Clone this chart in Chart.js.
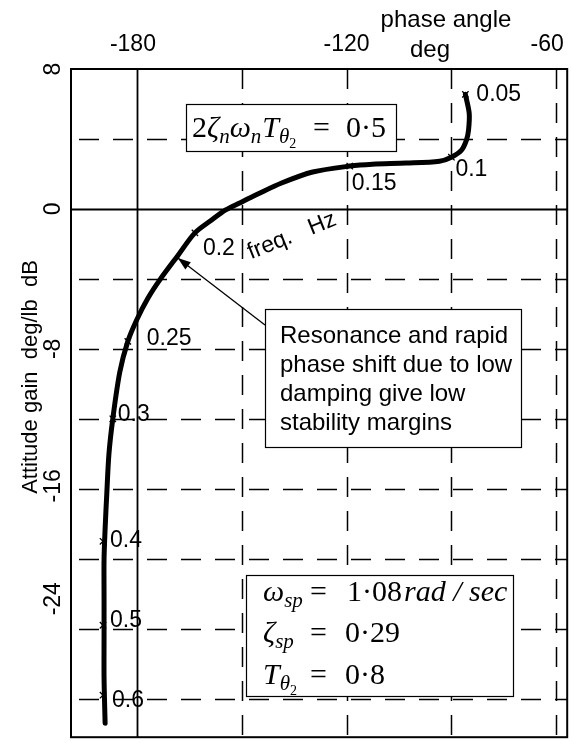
<!DOCTYPE html>
<html><head><meta charset="utf-8">
<script src="https://cdn.jsdelivr.net/npm/chart.js@4"></script>
<style>html,body{margin:0;padding:0;background:#fff;}canvas{display:block;}</style>
</head><body>
<canvas id="c" width="573" height="743"></canvas>
<script>
// ---- data (phase deg, gain dB) ----
const curvePhase = [-86.0,-84.9,-85.1,-85.7,-87.1,-90.0,-93.4,-102.9,-112.6,-119.1,-129.7,-138.6,-145.4,-150.6,-154.6,-158.6,-163.4,-168.3,-173.4,-176.9,-180.0,-182.6,-184.9,-186.9,-188.0,-188.6,-189.1,-189.4,-189.4,-189.4,-189.4,-189.1];
const curveGain  = [6.55,5.46,4.50,3.93,3.36,2.96,2.73,2.62,2.56,2.45,2.11,1.48,0.85,0.34,-0.06,-0.63,-1.37,-2.67,-4.04,-5.12,-6.32,-7.57,-9.33,-12.0,-14.0,-16.2,-18.3,-20.0,-22.3,-24.5,-26.8,-29.4];
const freqLabels = ['0.05','0.1','0.15','0.2','0.25','0.3','0.4','0.5','0.6'];
const freqPhase  = [-86.0,-90.0,-119.1,-163.4,-182.6,-186.9,-189.7,-189.7,-189.7];
const freqGain   = [6.55,2.96,2.45,-1.37,-7.57,-12.0,-19.0,-23.8,-27.8];
const phaseTickValues = [-180,-120,-60];
const phaseTickLabels = ['-180','-120','-60'];
const gainTickValues  = [8,0,-8,-16,-24];
const gainTickLabels  = ['8','0','-8','-16','-24'];
const phaseGridValues = [-180,-150,-120,-90,-60];
const gainGridValues  = [4,0,-4,-8,-12,-16,-20,-24,-28];
const solidPhase = -180, solidGain = 0;
const arrowTarget = {phase:-168.3, gain:-2.8};

// ---- styles / layout ----
const SANS = '"Liberation Sans", Arial, Helvetica, sans-serif';
const SERIF = '"Liberation Serif", "Times New Roman", serif';
const freqLabelOffsets = [[11,0],[4,12],[2,18],[8,16],[19,-3],[5,-4],[7,-1],[7,-5],[9,5]];
const phaseLabelNudge = [-4,0,-9];
const gainLabelNudge = [0,0,0,-3,-30];

function runs(ctx, x, y, list){
  for(const r of list){ ctx.font = r.f; ctx.fillText(r.t, x, y + (r.dy||0)); x += ctx.measureText(r.t).width + (r.sp||0); }
  return x;
}
function box(ctx, x, y, w, h){
  ctx.save(); ctx.setLineDash([]); ctx.fillStyle='#fff'; ctx.fillRect(x,y,w,h);
  ctx.strokeStyle='#000'; ctx.lineWidth=1.2; ctx.strokeRect(x+0.5,y+0.5,w,h); ctx.restore();
}

const nichols = {
  id:'nichols',
  beforeDatasetsDraw(chart){
    const ctx = chart.ctx, xs = chart.scales.x, ys = chart.scales.y, a = chart.chartArea;
    ctx.save();
    ctx.strokeStyle = '#000';
    for(const v of phaseGridValues){
      const px = Math.round(xs.getPixelForValue(v)) + 0.5;
      ctx.beginPath(); ctx.lineWidth = v===solidPhase ? 1.8 : 1.5;
      ctx.setLineDash(v===solidPhase ? [] : [20,14]);
      ctx.moveTo(px, a.top); ctx.lineTo(px, a.bottom); ctx.stroke();
    }
    for(const v of gainGridValues){
      const py = Math.round(ys.getPixelForValue(v)) + 0.5;
      ctx.beginPath(); ctx.lineWidth = v===solidGain ? 1.8 : 1.5;
      ctx.setLineDash(v===solidGain ? [] : [20,14]);
      ctx.lineDashOffset = -8;
      ctx.moveTo(a.left, py); ctx.lineTo(a.right, py); ctx.stroke();
      ctx.lineDashOffset = 0;
    }
    ctx.setLineDash([]); ctx.lineWidth = 2;
    ctx.strokeRect(a.left, a.top, a.right - a.left, a.bottom - a.top);
    ctx.restore();
  },
  afterDatasetsDraw(chart){
    const ctx = chart.ctx, xs = chart.scales.x, ys = chart.scales.y;
    const X = v => xs.getPixelForValue(v), Y = v => ys.getPixelForValue(v);
    ctx.save();
    ctx.fillStyle = '#000';
    // top phase labels
    ctx.font = '23px ' + SANS; ctx.textAlign = 'center'; ctx.textBaseline = 'middle';
    phaseTickValues.forEach((v,i)=> ctx.fillText(phaseTickLabels[i], X(v)+phaseLabelNudge[i], 45));
    ctx.font = '24px ' + SANS;
    ctx.fillText('phase angle', 446, 20);
    ctx.fillText('deg', 430, 50);
    // left gain labels (rotated)
    ctx.font = '23px ' + SANS;
    gainTickValues.forEach((v,i)=>{
      ctx.save(); ctx.translate(54, Y(v)+gainLabelNudge[i]); ctx.rotate(-Math.PI/2);
      ctx.fillText(gainTickLabels[i], 0, 0); ctx.restore();
    });
    ctx.font = '22px ' + SANS;
    ctx.save(); ctx.translate(31, 377); ctx.rotate(-Math.PI/2);
    ctx.fillText('Attitude gain  deg/lb  dB', 0, 0); ctx.restore();

    // frequency labels
    ctx.textAlign = 'left'; ctx.font = '23px ' + SANS;
    freqLabels.forEach((t,i)=>{
      const o = freqLabelOffsets[i];
      ctx.fillText(t, X(freqPhase[i]) + o[0], Y(freqGain[i]) + o[1]);
    });
    ctx.save(); ctx.translate(292, 236); ctx.rotate(-22*Math.PI/180);
    ctx.textAlign='center'; ctx.font = '23px ' + SANS; ctx.fillText('freq.   Hz', 0, 0); ctx.restore();

    // box 1
    box(ctx, 186, 104, 210, 47);
    ctx.textAlign='left'; ctx.textBaseline='alphabetic';
    const it = s => 'italic ' + s + 'px ' + SERIF, nm = s => s + 'px ' + SERIF;
    runs(ctx, 192, 137, [
      {t:'2', f:nm(30)}, {t:'ζ', f:it(30)}, {t:'n', f:it(21), dy:6}, {t:'ω', f:it(30)},
      {t:'n', f:it(21), dy:6, sp:1}, {t:'T', f:it(30)}, {t:'θ', f:it(21), dy:6}, {t:'2', f:nm(14), dy:11}
    ]);
    ctx.font = nm(30); ctx.fillText('=', 313, 137); ctx.fillText('0·5', 346, 137);

    // box 2 + arrow
    const tx = X(arrowTarget.phase), ty = Y(arrowTarget.gain);
    const sx = 265, sy = 325;
    ctx.strokeStyle='#000'; ctx.lineWidth=1.3; ctx.beginPath(); ctx.moveTo(sx,sy); ctx.lineTo(tx,ty); ctx.stroke();
    const ang = Math.atan2(ty-sy, tx-sx), L = 13, W = 4.5;
    ctx.beginPath(); ctx.moveTo(tx,ty);
    ctx.lineTo(tx - L*Math.cos(ang) + W*Math.sin(ang), ty - L*Math.sin(ang) - W*Math.cos(ang));
    ctx.lineTo(tx - L*Math.cos(ang) - W*Math.sin(ang), ty - L*Math.sin(ang) + W*Math.cos(ang));
    ctx.closePath(); ctx.fill();
    box(ctx, 265, 309, 256, 138);
    ctx.font = '24px ' + SANS;
    ['Resonance and rapid','phase shift due to low','damping give low','stability margins']
      .forEach((s,i)=> ctx.fillText(s, 280, 343 + i*29));

    // box 3
    box(ctx, 246, 575, 267, 121);
    runs(ctx, 263, 601, [{t:'ω', f:it(30)}, {t:'sp', f:it(21), dy:6}]);
    ctx.font = nm(30); ctx.fillText('=', 310, 601);
    let xe = runs(ctx, 347, 601, [{t:'1·08', f:nm(30), sp:2}]);
    runs(ctx, xe, 601, [{t:'rad / sec', f:it(30)}]);
    runs(ctx, 263, 642, [{t:'ζ', f:it(30)}, {t:'sp', f:it(21), dy:6}]);
    ctx.font = nm(30); ctx.fillText('=', 310, 642); ctx.fillText('0·29', 345, 642);
    runs(ctx, 263, 684, [{t:'T', f:it(30)}, {t:'θ', f:it(21), dy:6}, {t:'2', f:nm(14), dy:11}]);
    ctx.font = nm(30); ctx.fillText('=', 310, 684); ctx.fillText('0·8', 345, 684);
    ctx.restore();
  }
};

new Chart(document.getElementById('c'), {
  type:'scatter',
  data:{ datasets:[
    { data: curvePhase.map((p,i)=>({x:p, y:curveGain[i]})), showLine:true, borderColor:'#000',
      borderWidth:5, pointRadius:0, tension:0.3, fill:false, borderCapStyle:'round', order:2 },
    { data: freqPhase.map((p,i)=>({x:p, y:freqGain[i]})), showLine:false, pointStyle:'crossRot',
      pointRadius:4.5, borderColor:'#000', backgroundColor:'#000', borderWidth:1.3, order:1 }
  ]},
  options:{
    responsive:false, animation:false, devicePixelRatio:1,
    layout:{padding:{left:71, top:69, right:5, bottom:3}},
    scales:{
      x:{type:'linear', min:-198.86, max:-56.86, display:false},
      y:{type:'linear', min:-30.2, max:8, display:false}
    },
    plugins:{legend:{display:false}, tooltip:{enabled:false}}
  },
  plugins:[nichols]
});
</script>
</body></html>
